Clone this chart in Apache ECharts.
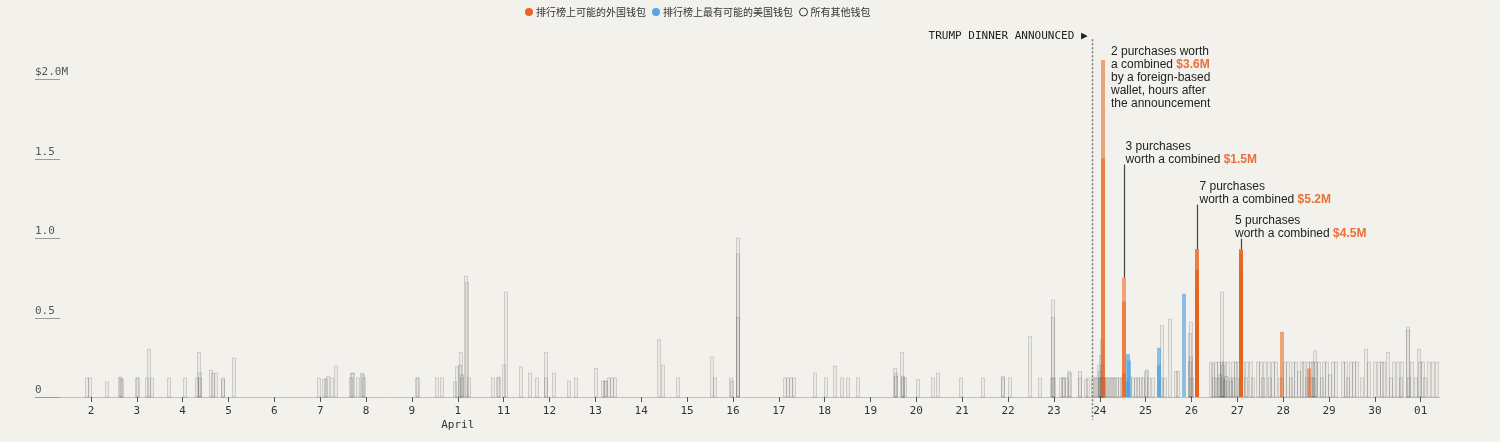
<!DOCTYPE html>
<html lang="zh">
<head>
    <meta charset="UTF-8">
    <title>排行榜钱包购买</title>
    <script src="https://cdn.jsdelivr.net/npm/echarts@6/dist/echarts.min.js"></script>
    <style>
        html, body { margin: 0; padding: 0; background: #f3f1ec; }
        #main { width: 1500px; height: 442px; }
    </style>
</head>
<body>
<div id="main"></div>
<script>
    // purchases: [day of April (May 1 = 31), amount in $M]
    var foreignWallets = [
        [24.07, 2.12], [24.07, 1.50],
        [24.52, 0.75], [24.52, 0.60], [24.52, 0.15],
        [26.11, 0.93], [26.11, 0.93], [26.11, 0.80], [26.11, 0.80], [26.11, 0.69], [26.11, 0.58], [26.11, 0.47],
        [27.08, 0.93], [27.08, 0.93], [27.08, 0.92], [27.08, 0.90], [27.08, 0.82],
        [27.97, 0.41], [28.56, 0.18]
    ];
    var usWallets = [
        [24.61, 0.27], [24.63, 0.23], [24.62, 0.10],
        [25.29, 0.31], [25.29, 0.20],
        [25.84, 0.65]
    ];
    var otherWallets = [
        [1.92, 0.12], [1.98, 0.12], [2.35, 0.095], [2.64, 0.125], [2.66, 0.12], [2.68, 0.11],
        [3.0, 0.12], [3.03, 0.12], [3.22, 0.12], [3.27, 0.30], [3.33, 0.12], [3.7, 0.12],
        [4.05, 0.12], [4.31, 0.12], [4.36, 0.28], [4.37, 0.15], [4.38, 0.12], [4.62, 0.17],
        [4.67, 0.15], [4.72, 0.15], [4.87, 0.12], [4.89, 0.11], [5.12, 0.245],
        [6.98, 0.12], [7.08, 0.11], [7.12, 0.115], [7.18, 0.13], [7.25, 0.12], [7.35, 0.195],
        [7.68, 0.12], [7.7, 0.15], [7.72, 0.15], [7.83, 0.12], [7.92, 0.15], [7.94, 0.14], [7.96, 0.12],
        [9.1, 0.12], [9.14, 0.12], [9.54, 0.12], [9.66, 0.12], [9.94, 0.095], [9.99, 0.19],
        [10.05, 0.2], [10.08, 0.28], [10.09, 0.14], [10.1, 0.12], [10.19, 0.76], [10.21, 0.72],
        [10.24, 0.12], [10.77, 0.12], [10.88, 0.12], [10.9, 0.125],
        [11.0, 0.2], [11.06, 0.66], [11.37, 0.19], [11.57, 0.15], [11.72, 0.12], [11.92, 0.28], [11.93, 0.12],
        [12.1, 0.15], [12.42, 0.1], [12.57, 0.12],
        [13.01, 0.18], [13.16, 0.1], [13.22, 0.1], [13.24, 0.1], [13.3, 0.12], [13.37, 0.12], [13.43, 0.12],
        [14.39, 0.36], [14.47, 0.2], [14.8, 0.12],
        [15.54, 0.25], [15.6, 0.12], [15.95, 0.12], [15.99, 0.1],
        [16.1, 1.0], [16.1, 0.9], [16.1, 0.5],
        [17.13, 0.12], [17.2, 0.12], [17.27, 0.12], [17.33, 0.12], [17.79, 0.15],
        [18.03, 0.12], [18.22, 0.195], [18.37, 0.12], [18.5, 0.12], [18.73, 0.12],
        [19.54, 0.18], [19.55, 0.15], [19.56, 0.13], [19.69, 0.28], [19.7, 0.13], [19.71, 0.12], [19.76, 0.12],
        [20.03, 0.11], [20.37, 0.12], [20.47, 0.15], [20.97, 0.12],
        [21.45, 0.12], [21.88, 0.13], [21.9, 0.12], [22.04, 0.12],
        [22.48, 0.38], [22.7, 0.12], [22.96, 0.12], [22.98, 0.61], [22.99, 0.5], [23.0, 0.12],
        [23.15, 0.12], [23.2, 0.12], [23.22, 0.12], [23.28, 0.12], [23.33, 0.16], [23.36, 0.15],
        [23.56, 0.16], [23.58, 0.12], [23.7, 0.11], [23.75, 0.12],
        [23.86, 0.12], [23.9, 0.12], [23.95, 0.12], [23.98, 0.2], [24.0, 0.12], [24.01, 0.16],
        [24.02, 0.12], [24.03, 0.26], [24.04, 0.12], [24.05, 0.36], [24.06, 0.12], [24.07, 0.2],
        [24.08, 0.12], [24.1, 0.12], [24.12, 0.12], [24.16, 0.12], [24.2, 0.12], [24.24, 0.12],
        [24.28, 0.12], [24.33, 0.12], [24.38, 0.12], [24.44, 0.12], [24.48, 0.12], [24.58, 0.12],
        [24.66, 0.13], [24.72, 0.12], [24.78, 0.12], [24.84, 0.12], [24.9, 0.12], [24.95, 0.12],
        [25.0, 0.16], [25.02, 0.17], [25.08, 0.12], [25.16, 0.12],
        [25.35, 0.45], [25.33, 0.12], [25.42, 0.12], [25.53, 0.49], [25.67, 0.16], [25.7, 0.16],
        [25.96, 0.4], [26.0, 0.47], [25.97, 0.22], [25.99, 0.25], [26.02, 0.12],
        [26.42, 0.22], [26.47, 0.21], [26.5, 0.12], [26.53, 0.22], [26.57, 0.12], [26.6, 0.22],
        [26.62, 0.14], [26.67, 0.66], [26.66, 0.22], [26.68, 0.12], [26.69, 0.2], [26.72, 0.22],
        [26.74, 0.1], [26.76, 0.13], [26.8, 0.22], [26.83, 0.12], [26.86, 0.1], [26.9, 0.22],
        [26.93, 0.12], [26.97, 0.22], [27.02, 0.22], [27.05, 0.12], [27.12, 0.22], [27.18, 0.12],
        [27.22, 0.22], [27.3, 0.22], [27.35, 0.12], [27.45, 0.22], [27.52, 0.22], [27.55, 0.12],
        [27.6, 0.22], [27.68, 0.22], [27.72, 0.12], [27.78, 0.22], [27.85, 0.22], [27.92, 0.12],
        [27.98, 0.12], [28.05, 0.22], [28.1, 0.22], [28.16, 0.12], [28.22, 0.22], [28.28, 0.22],
        [28.35, 0.16], [28.4, 0.22], [28.46, 0.22], [28.52, 0.12], [28.55, 0.22], [28.6, 0.22],
        [28.62, 0.12], [28.69, 0.29], [28.66, 0.22], [28.68, 0.12], [28.72, 0.22], [28.78, 0.22],
        [28.84, 0.12], [28.9, 0.22], [28.96, 0.22], [29.02, 0.14], [29.08, 0.22], [29.15, 0.22],
        [29.3, 0.22], [29.36, 0.22], [29.42, 0.12], [29.48, 0.22], [29.55, 0.22], [29.62, 0.22],
        [29.8, 0.3], [29.72, 0.12], [29.88, 0.22], [30.0, 0.22], [30.08, 0.22], [30.15, 0.22],
        [30.2, 0.22], [30.28, 0.28], [30.35, 0.12], [30.42, 0.22], [30.5, 0.22], [30.56, 0.12],
        [30.6, 0.22], [30.72, 0.44], [30.73, 0.42], [30.74, 0.12], [30.8, 0.22], [30.96, 0.3],
        [30.9, 0.12], [30.98, 0.22], [31.05, 0.22], [31.1, 0.12], [31.18, 0.22], [31.26, 0.22], [31.35, 0.22]
    ];

    var dayTicks = [2, 3, 4, 5, 6, 7, 8, 9, 10, 11, 12, 13, 14, 15, 16, 17, 18, 19, 20, 21, 22, 23, 24, 25, 26, 27, 28, 29, 30, 31];
    var dayLabels = ['2', '3', '4', '5', '6', '7', '8', '9', '1\nApril', '11', '12', '13', '14', '15', '16', '17', '18', '19',
        '20', '21', '22', '23', '24', '25', '26', '27', '28', '29', '30', '01'];
    var yTicks = [0, 0.5, 1, 1.5, 2];
    var yLabels = ['0', '0.5', '1.0', '1.5', '$2.0M'];

    var announcementDay = 23.83;
    var announcementText = 'TRUMP DINNER ANNOUNCED ▶';

    var noteDays = [24.07, 24.52, 26.11, 27.08];
    var noteBarTops = [2.12, 0.75, 0.93, 0.93];
    var noteTextTops = [2.21, 1.613, 1.361, 1.147];
    var noteTexts = [
        '2 purchases worth\na combined {hl|$3.6M}\nby a foreign-based\nwallet, hours after\nthe announcement',
        '3 purchases\nworth a combined {hl|$1.5M}',
        '7 purchases\nworth a combined {hl|$5.2M}',
        '5 purchases\nworth a combined {hl|$4.5M}'
    ];
    var noteShift = [8, 2, 3, -6];

    var nameForeign = '排行榜上可能的外国钱包';
    var nameUS = '排行榜上最有可能的美国钱包';
    var nameOther = '所有其他钱包';

    var MONO = '"DejaVu Sans Mono", monospace';
    var SANS = '"Liberation Sans", Arial, sans-serif';
    var X_MIN = 0.78, X_MAX = 31.42, Y_MAX = 2.25;

    function barRenderer(style, outlined) {
        return function (params, api) {
            var top = api.coord([api.value(0), api.value(1)]);
            var base = api.coord([api.value(0), 0]);
            var cx = Math.round(top[0]);
            var shape = outlined
                ? { x: cx - 1.5, y: top[1], width: 3, height: base[1] - top[1] }
                : { x: cx - 2, y: top[1], width: 4, height: base[1] - top[1] };
            return { type: 'rect', shape: shape, style: style };
        };
    }

    var myChart = echarts.init(document.getElementById('main'));
    var option = {
        backgroundColor: '#f3f1ec',
        animation: false,
        grid: { left: 35, right: 60, top: 39.25, bottom: 45 },
        legend: {
            left: 520,
            top: 2,
            itemWidth: 8,
            itemHeight: 8,
            itemGap: 6,
            icon: 'circle',
            selectedMode: false,
            textStyle: { fontSize: 10, color: '#333', fontFamily: '"Noto Sans CJK SC", sans-serif', padding: [0, 0, 0, -2] },
            data: [
                { name: nameForeign },
                { name: nameUS },
                { name: nameOther, itemStyle: { color: 'rgba(0,0,0,0)', borderColor: '#333', borderWidth: 1 } }
            ]
        },
        xAxis: {
            type: 'value',
            min: X_MIN,
            max: X_MAX,
            splitLine: { show: false },
            axisLine: { show: true, onZero: false, lineStyle: { color: '#c2c0bb', width: 1 } },
            axisTick: { show: true, customValues: dayTicks, length: 5, lineStyle: { color: '#555' } },
            axisLabel: {
                customValues: dayTicks,
                margin: 7,
                fontFamily: MONO,
                fontSize: 11,
                color: '#333',
                lineHeight: 14,
                formatter: function (v) {
                    var i = dayTicks.indexOf(Math.round(v));
                    return i >= 0 ? dayLabels[i] : '';
                }
            }
        },
        yAxis: {
            type: 'value',
            min: 0,
            max: Y_MAX,
            interval: 0.5,
            splitLine: { show: false },
            axisLine: { show: false },
            axisTick: { show: false },
            axisLabel: {
                inside: true,
                margin: 0,
                verticalAlign: 'bottom',
                padding: [0, 0, 1, 0],
                fontFamily: MONO,
                fontSize: 11,
                color: '#555',
                formatter: function (v) {
                    var i = yTicks.indexOf(v);
                    return i >= 0 ? yLabels[i] : '';
                }
            }
        },
        series: [
            {
                // y tick stubs under the labels
                type: 'custom',
                silent: true,
                data: yTicks.map(function (v) { return [X_MIN, v]; }),
                renderItem: function (params, api) {
                    var p = api.coord([api.value(0), api.value(1)]);
                    var y = Math.round(p[1]) + 0.5;
                    return { type: 'line', shape: { x1: p[0], y1: y, x2: p[0] + 25, y2: y },
                        style: { stroke: '#9c9a96', lineWidth: 1 } };
                }
            },
            {
                name: nameOther,
                type: 'custom',
                itemStyle: { color: '#888' },
                clip: false,
                data: otherWallets,
                renderItem: barRenderer({ fill: 'rgba(40,40,40,0.035)', stroke: 'rgba(40,40,40,0.16)', lineWidth: 1 }, true)
            },
            {
                name: nameUS,
                type: 'custom',
                itemStyle: { color: '#5aa6e2' },
                data: usWallets,
                renderItem: barRenderer({ fill: 'rgba(74,159,224,0.6)' }, false)
            },
            {
                name: nameForeign,
                type: 'custom',
                itemStyle: { color: '#e8662a' },
                data: foreignWallets,
                renderItem: barRenderer({ fill: 'rgba(232,98,30,0.55)' }, false)
            },
            {
                // announcement marker
                type: 'custom',
                silent: true,
                clip: false,
                data: [[announcementDay, Y_MAX]],
                renderItem: function (params, api) {
                    var top = api.coord([api.value(0), api.value(1)]);
                    var base = api.coord([api.value(0), 0]);
                    var x = Math.round(top[0]) + 0.5;
                    return {
                        type: 'group',
                        children: [
                            { type: 'line', shape: { x1: x, y1: top[1], x2: x, y2: base[1] + 23 },
                                style: { stroke: '#7a7874', lineWidth: 1.5, lineDash: [2, 2] } },
                            { type: 'text', x: x - 5, y: top[1] - 3,
                                style: { text: announcementText, font: '11px ' + MONO, fill: '#222',
                                    align: 'right', verticalAlign: 'middle' } }
                        ]
                    };
                }
            },
            {
                // annotations with leader lines
                type: 'custom',
                silent: true,
                clip: false,
                data: noteDays.map(function (d, i) { return [d, noteBarTops[i], noteTextTops[i], i]; }),
                renderItem: function (params, api) {
                    var i = api.value(3);
                    var bar = api.coord([api.value(0), api.value(1)]);
                    var txt = api.coord([api.value(0), api.value(2)]);
                    var lines = noteTexts[i].split('\n').length;
                    var textBottom = txt[1] + lines * 13;
                    var x = Math.round(bar[0]) + 0.5;
                    var children = [{
                        type: 'text', x: bar[0] + noteShift[i], y: txt[1],
                        style: {
                            text: noteTexts[i], fontFamily: SANS, fontSize: 12, fill: '#222',
                            lineHeight: 13, verticalAlign: 'top', align: 'left',
                            rich: { hl: { fontFamily: SANS, fontSize: 12, fontWeight: 'bold', fill: '#e8703a', lineHeight: 13 } }
                        }
                    }];
                    if (bar[1] > textBottom) {
                        children.push({ type: 'line', shape: { x1: x, y1: textBottom - 2, x2: x, y2: bar[1] },
                            style: { stroke: '#444', lineWidth: 1.2 } });
                    }
                    return { type: 'group', children: children };
                }
            }
        ]
    };
    myChart.setOption(option);
</script>
</body>
</html>
